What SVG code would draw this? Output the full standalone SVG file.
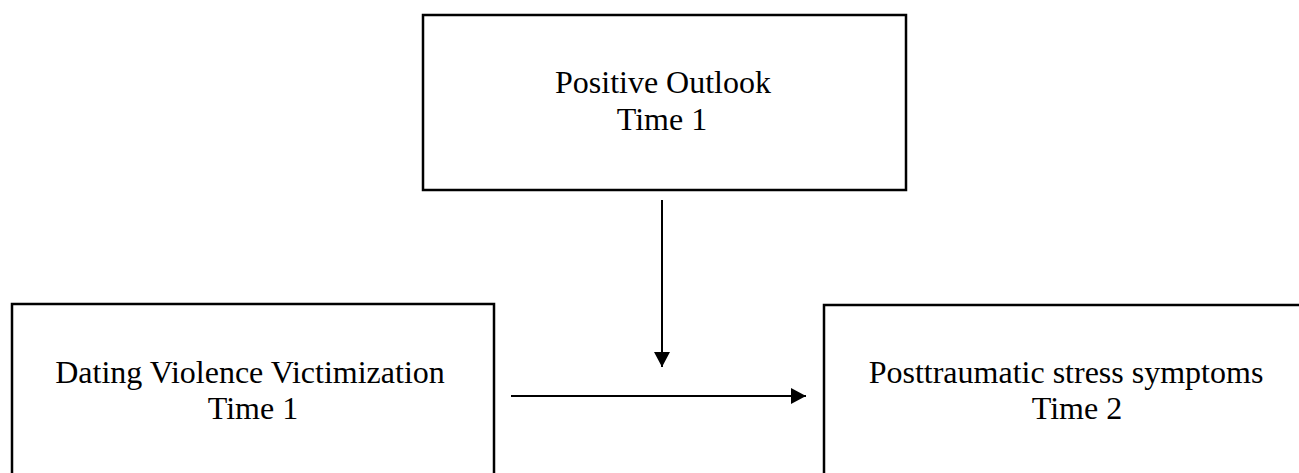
<svg xmlns="http://www.w3.org/2000/svg" width="1299" height="473" viewBox="0 0 1299 473">
<style>
.box{fill:#fff;stroke:#000;stroke-width:2.5}
.lbl{font-family:"Liberation Serif","Times New Roman",serif;font-size:32px;fill:#000;text-anchor:middle}
.conn{stroke:#000;stroke-width:2;fill:none}
</style>
<defs>
<marker id="ah" markerUnits="userSpaceOnUse" markerWidth="16" markerHeight="16" refX="15" refY="8" orient="auto">
<path d="M0,0 L15,8 L0,16 Z" fill="#000"/>
</marker>
</defs>
<rect width="1299" height="473" fill="#fff"/>
<g id="positive-outlook">
<rect class="box" x="423" y="15" width="483" height="175"/>
<text class="lbl" x="663" y="93">Positive Outlook</text>
<text class="lbl" x="662" y="130">Time 1</text>
</g>
<g id="dating-violence">
<rect class="box" x="12" y="304" width="482" height="200"/>
<text class="lbl" x="250" y="383">Dating Violence Victimization</text>
<text class="lbl" x="253" y="419">Time 1</text>
</g>
<g id="ptss">
<rect class="box" x="824" y="305" width="500" height="200"/>
<text class="lbl" x="1066" y="383">Posttraumatic stress symptoms</text>
<text class="lbl" x="1077" y="419">Time 2</text>
</g>
<g id="connectors">
<line class="conn" x1="662" y1="200" x2="662" y2="367" marker-end="url(#ah)"/>
<line class="conn" x1="511" y1="396" x2="806" y2="396" marker-end="url(#ah)"/>
</g>
</svg>
